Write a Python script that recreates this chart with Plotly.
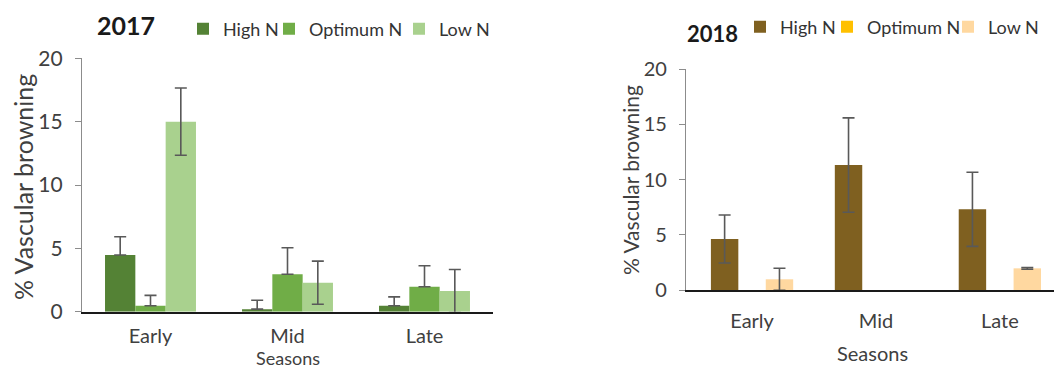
import plotly.graph_objects as go

seasons = ["Early", "Mid", "Late"]
series = ["High N", "Optimum N", "Low N"]

# 2017 values (% vascular browning) and error bars
y2017_high = [4.47, 0.2, 0.47]
y2017_opt = [0.47, 2.95, 1.97]
y2017_low = [15.0, 2.29, 1.63]
e2017_high_plus = [1.45, 0.7, 0.7]
e2017_high_minus = [0, 0, 0]
e2017_opt_plus = [0.82, 2.1, 1.66]
e2017_opt_minus = [0, 0, 0]
e2017_low = [2.65, 1.7, 1.7]

# 2018 values and error bars (None = no bar shown)
y2018_high = [4.62, 11.31, 7.3]
y2018_opt = [None, None, None]
y2018_low = [0.97, None, 1.96]
e2018_high = [2.17, 4.27, 3.35]
e2018_opt = [None, None, None]
e2018_low = [1.0, None, 0.08]

yticks = [0, 5, 10, 15, 20]

col2017 = ["#548235", "#70AD47", "#A9D18E"]
col2018 = ["#7F6020", "#FFC000", "#FFD8A0"]
ERR = "#595959"
FONT = "Lato"
W, H = 1062, 369
OFF = 8  # page body margin

fig = go.Figure()

def err(plus, minus=None):
    d = dict(type="data", array=plus, color=ERR, thickness=1.6, width=6, visible=True)
    if minus is not None:
        d["symmetric"] = False
        d["arrayminus"] = minus
    return d

data17 = [(y2017_high, err(e2017_high_plus, e2017_high_minus)),
          (y2017_opt, err(e2017_opt_plus, e2017_opt_minus)),
          (y2017_low, err(e2017_low))]
data18 = [(y2018_high, err(e2018_high)),
          (y2018_opt, err(e2018_opt)),
          (y2018_low, err(e2018_low))]

# legend text start positions (px)
leg17_x = [223, 309, 439]
leg18_x = [780, 867, 988]

for i, (vals, e) in enumerate(data17):
    fig.add_trace(go.Bar(x=seasons, y=vals, name=series[i], marker_color=col2017[i],
                         marker_line_width=0, error_y=e, xaxis="x", yaxis="y",
                         showlegend=True,
                         legend="legend" if i == 0 else f"legend{i+1}"))
for i, (vals, e) in enumerate(data18):
    fig.add_trace(go.Bar(x=seasons, y=vals, name=series[i], marker_color=col2018[i],
                         marker_line_width=0, error_y=e, xaxis="x2", yaxis="y2",
                         showlegend=True,
                         legend=f"legend{i+4}"))

def px_x(p):
    return (p - OFF) / W

def px_y(p):
    return 1 - (p - OFF) / H

LEGFONT = dict(family=FONT, size=18, color="#333333")
legends = {}
for i, xp in enumerate(leg17_x):
    key = "legend" if i == 0 else f"legend{i+1}"
    legends[key] = dict(x=px_x(xp - 40), y=px_y(29), xanchor="left", yanchor="middle",
                        orientation="h", bgcolor="rgba(0,0,0,0)", borderwidth=0,
                        font=LEGFONT, itemclick=False, itemdoubleclick=False)
for i, xp in enumerate(leg18_x):
    key = f"legend{i+4}"
    legends[key] = dict(x=px_x(xp - 40), y=px_y(27), xanchor="left", yanchor="middle",
                        orientation="h", bgcolor="rgba(0,0,0,0)", borderwidth=0,
                        font=LEGFONT, itemclick=False, itemdoubleclick=False)

fig.update_layout(
    width=W, height=H,
    margin=dict(l=0, r=0, t=0, b=0, autoexpand=False),
    showlegend=True,
    paper_bgcolor="white", plot_bgcolor="white",
    barmode="group", bargap=0.336, bargroupgap=0,
    font=dict(family=FONT, color="#404040"),
    xaxis=dict(domain=[px_x(82), px_x(493)], range=[-0.5, 2.5], showline=True,
               linecolor="#1a1a1a", linewidth=1.6, ticks="",
               tickfont=dict(family=FONT, size=20, color="#404040"),
               ticklabelstandoff=5, showgrid=False, fixedrange=True),
    yaxis=dict(domain=[px_y(311.7), px_y(58.3)], range=[0, 20], tickvals=yticks,
               showline=True, linecolor="#8c8c8c", linewidth=1.2, ticks="outside",
               ticklen=6, tickcolor="#8c8c8c",
               tickfont=dict(family=FONT, size=21, color="#404040"), ticklabelstandoff=8,
               showgrid=False, zeroline=False, fixedrange=True),
    xaxis2=dict(domain=[px_x(686), 1.0], range=[-0.533, 2.566], showline=True,
                linecolor="#1a1a1a", linewidth=1.6, ticks="",
                tickfont=dict(family=FONT, size=20, color="#404040"),
                ticklabelstandoff=12, showgrid=False, anchor="y2", fixedrange=True),
    yaxis2=dict(domain=[px_y(290), px_y(69)], range=[0, 20], tickvals=yticks,
                showline=True, linecolor="#8c8c8c", linewidth=1.2, ticks="outside",
                ticklen=6, tickcolor="#8c8c8c",
                tickfont=dict(family=FONT, size=20, color="#404040"), ticklabelstandoff=8,
                showgrid=False, zeroline=False, anchor="x2", fixedrange=True),
    **legends,
)

annots = [
    dict(text="<b>2017</b>", x=px_x(126), y=px_y(25), font=dict(family=FONT, size=25, color="#1a1a1a")),
    dict(text="<b>2018</b>", x=px_x(712), y=px_y(33), font=dict(family=FONT, size=22, color="#1a1a1a")),
    dict(text="% Vascular browning", x=px_x(23), y=px_y(187), textangle=-90,
         font=dict(family=FONT, size=25, color="#404040")),
    dict(text="% Vascular browning", x=px_x(630), y=px_y(180), textangle=-90,
         font=dict(family=FONT, size=21, color="#404040")),
    dict(text="Seasons", x=px_x(288), y=px_y(358), font=dict(family=FONT, size=18, color="#404040")),
    dict(text="Seasons", x=px_x(872), y=px_y(353), font=dict(family=FONT, size=20, color="#404040")),
]
for a in annots:
    fig.add_annotation(xref="paper", yref="paper", showarrow=False,
                       xanchor="center", yanchor="middle", **a)

fig.write_html("out.html")
